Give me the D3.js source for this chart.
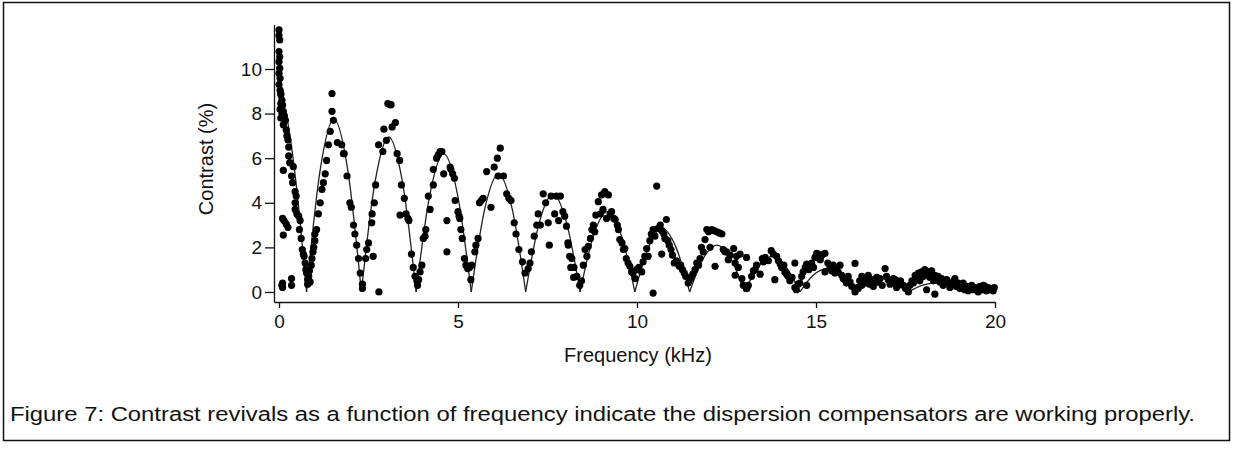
<!DOCTYPE html>
<html>
<head>
<meta charset="utf-8">
<script src="https://cdn.jsdelivr.net/npm/d3@7"></script>
<style>
body { margin: 0; background: #fff; }
svg { display: block; font-family: "Liberation Sans", Arial, sans-serif; }
</style>
</head>
<body>
<div id="chart"></div>
<script>
const xTicks = [0, 5, 10, 15, 20];
const yTicks = [0, 2, 4, 6, 8, 10];
const xTitle = "Frequency (kHz)";
const yTitle = "Contrast (%)";
const caption = "Figure 7: Contrast revivals as a function of frequency indicate the dispersion compensators are working properly.";

// fitted curve (zeros, quarter points, peaks)
const fitFreq = [0, 0.2, 0.4, 0.58, 0.77,
  1.15, 1.535, 1.92, 2.30,
  2.68, 3.065, 3.45, 3.83,
  4.215, 4.6, 4.985, 5.37,
  5.75, 6.13, 6.51, 6.89,
  7.27, 7.65, 8.03, 8.41,
  8.79, 9.175, 9.56, 9.94,
  10.32, 10.7, 11.09, 11.47,
  11.85, 12.23, 12.62, 13.0,
  13.39, 13.78, 14.16, 14.55,
  14.92, 15.3, 15.67, 16.05,
  16.43, 16.8, 17.2, 17.58,
  17.96, 18.35, 18.73, 19.11,
  19.5, 20.0];
const fitContrast = [8.6, 7.95, 5.9, 3.3, 0,
  5.48, 7.75, 5.48, 0,
  4.91, 6.95, 4.91, 0,
  4.38, 6.2, 4.38, 0,
  3.75, 5.3, 3.75, 0,
  3.11, 4.4, 3.11, 0,
  2.55, 3.6, 2.55, 0,
  2.0, 2.85, 2.0, 0,
  1.5, 2.1, 1.5, 0,
  1.13, 1.6, 1.13, 0,
  0.75, 1.05, 0.75, 0,
  0.42, 0.6, 0.42, 0,
  0.3, 0.4, 0.3, 0,
  0.18, 0.3];

// measured contrast [kHz, %]
const measured = [
  [0.0,11.75],[0.0,11.5],[0.02,11.3],[0.0,10.78],[0.02,10.55],[0.0,10.33],[0.02,10.03],[0.0,9.8],[0.03,9.58],[0.0,9.3],
  [0.03,9.05],[0.05,8.9],[0.05,8.83],[0.08,8.6],[0.05,8.45],[0.1,8.38],[0.03,8.2],[0.08,8.0],[0.12,8.1],[0.15,7.9],
  [0.05,7.8],[0.18,7.7],[0.12,7.5],[0.2,7.27],[0.22,7.0],[0.25,6.82],[0.27,6.5],[0.27,6.1],[0.3,5.8],[0.4,5.62],
  [0.35,5.2],[0.38,4.9],[0.45,4.5],[0.48,4.3],[0.45,4.0],[0.45,3.7],[0.5,3.5],[0.55,3.4],[0.59,3.2],[0.57,2.8],
  [0.62,2.4],[0.65,1.9],[0.68,1.7],[0.7,1.6],[0.73,1.3],[0.75,1.0],[0.77,0.85],[0.8,0.55],[0.8,0.35],[0.83,0.7],
  [0.85,0.95],[0.87,0.45],
  [0.12,5.45],[0.1,3.3],[0.14,3.2],[0.2,3.05],[0.25,2.9],[0.12,2.55],[0.1,0.4],[0.1,0.2],[0.35,0.3],[0.35,0.6],[0.08,0.3],
  [0.9,1.2],[0.92,1.5],[0.95,1.8],[0.97,2.0],[1.0,2.3],[1.0,2.6],[1.05,2.8],[1.1,3.5],[1.15,4.0],[1.2,4.6],
  [1.24,4.9],[1.29,5.3],[1.33,5.9],[1.38,6.6],[1.43,7.2],[1.48,8.1],[1.48,8.9],[1.52,7.7],
  [1.63,6.7],[1.75,6.6],[1.8,6.2],[1.82,6.2],[1.9,5.2],[1.98,4.0],[2.02,3.8],[2.08,3.0],[2.12,2.6],[2.17,2.1],
  [2.22,1.5],[2.27,0.85],[2.33,0.35],[2.33,0.15],
  [2.42,1.5],[2.45,1.9],[2.5,2.2],[2.59,3.1],[2.6,3.5],[2.66,4.0],[2.7,4.8],[2.78,6.6],[2.9,6.3],[2.93,7.3],
  [3.0,6.8],[3.04,8.45],[3.1,8.4],[3.13,8.4],[2.63,1.6],[2.79,0.0],
  [3.16,7.4],[3.25,7.6],[3.3,6.2],[3.37,5.9],[3.42,4.8],[3.38,3.45],[3.5,4.2],[3.55,3.5],[3.6,3.3],[3.63,3.2],
  [3.7,1.7],[3.75,1.1],[3.8,0.7],[3.85,0.5],[3.87,0.3],[3.9,0.55],
  [3.94,0.9],[3.99,1.2],[4.03,2.4],[4.08,2.5],[4.1,2.8],[4.17,4.3],[4.22,3.7],[4.31,4.8],[4.31,5.5],[4.4,6.0],
  [4.45,6.15],[4.5,6.3],[4.55,6.3],[4.6,5.3],[4.69,3.2],[4.69,1.8],
  [4.78,5.6],[4.8,5.5],[4.85,5.3],[4.9,5.1],[4.92,4.1],[5.0,3.6],[5.03,3.4],[5.05,3.3],[5.08,2.8],[5.12,2.4],
  [5.18,1.5],[5.22,1.2],[5.27,1.05],[5.32,1.1],[5.36,0.55],[5.38,1.2],
  [5.47,1.8],[5.5,2.1],[5.56,2.4],[5.6,4.0],[5.65,4.1],[5.7,4.2],[5.8,5.4],[5.92,3.8],[6.01,5.6],[6.1,6.0],
  [6.18,6.45],[6.12,5.2],
  [6.27,5.2],[6.36,4.4],[6.42,4.2],[6.48,4.1],[6.57,3.1],[6.62,2.6],[6.7,1.9],[6.8,1.35],[6.87,0.85],[6.96,1.05],
  [7.01,1.3],
  [7.05,1.8],[7.13,2.5],[7.2,3.0],[7.24,3.5],[7.3,3.0],[7.38,4.4],[7.45,4.0],[7.52,3.1],[7.55,2.1],[7.6,4.3],
  [7.7,3.5],[7.75,4.3],[7.81,3.2],[7.86,4.3],
  [7.93,3.6],[7.98,3.4],[8.03,2.95],[8.07,2.2],[8.08,2.1],[8.12,1.6],[8.15,1.1],[8.18,1.5],[8.24,1.1],[8.23,0.65],
  [8.32,0.7],[8.4,0.3],[8.45,0.5],
  [8.5,1.2],[8.55,1.9],[8.6,1.6],[8.64,2.05],[8.7,2.4],[8.74,2.8],[8.78,3.0],[8.82,2.7],[8.85,3.45],[8.92,4.05],
  [8.98,3.5],[9.01,4.35],[9.05,3.7],[9.1,4.5],[9.15,3.3],[9.2,4.35],
  [9.25,3.5],[9.29,3.6],[9.35,3.3],[9.39,3.25],[9.45,3.0],[9.48,2.8],[9.52,2.35],[9.58,2.2],[9.62,1.9],[9.66,1.95],
  [9.7,1.5],[9.75,1.3],[9.8,1.15],[9.85,0.9],[9.89,0.85],[9.95,0.6],[9.99,1.0],
  [10.05,1.1],[10.13,0.9],[10.17,1.35],[10.22,1.6],[10.27,1.95],[10.31,1.6],[10.36,2.3],[10.4,2.6],[10.45,2.8],[10.5,2.5],
  [10.55,4.75],[10.45,-0.05],[10.59,2.85],[10.65,3.0],[10.69,2.75],[10.69,1.7],
  [10.75,2.6],[10.78,2.4],[10.82,3.25],[10.86,2.3],[10.9,2.1],[10.95,1.9],[10.99,1.65],[11.04,1.3],[11.1,1.4],[11.18,1.15],
  [11.22,1.2],[11.27,1.0],[11.32,0.85],[11.36,0.7],[11.43,0.4],[11.47,0.55],
  [11.5,0.65],[11.56,0.8],[11.62,1.0],[11.67,1.3],[11.72,1.2],[11.76,1.5],[11.8,2.0],[11.85,1.8],[11.9,2.35],[11.95,2.8],
  [12.0,2.7],[12.04,2.0],[12.09,2.8],[12.15,2.75],[12.18,1.15],[12.23,2.7],[12.3,2.65],[12.37,2.6],
  [12.41,1.9],[12.46,1.8],[12.5,1.8],[12.55,1.45],[12.6,1.65],[12.7,1.95],[12.74,1.3],[12.74,0.75],[12.78,1.6],[12.83,1.1],
  [12.88,1.7],[12.93,0.6],[12.97,0.3],[13.07,0.15],
  [13.06,1.55],[13.11,0.3],[13.2,0.7],[13.25,0.95],[13.3,1.0],[13.34,1.2],[13.44,0.8],[13.5,1.5],[13.53,1.35],[13.58,1.55],
  [13.67,1.4],[13.75,1.85],[13.81,1.7],[13.85,0.55],[13.9,1.6],
  [13.95,1.4],[14.0,1.25],[14.04,1.1],[14.1,1.2],[14.13,0.9],[14.18,0.8],[14.22,0.7],[14.27,0.5],[14.33,0.65],[14.41,0.2],
  [14.41,1.3],[14.45,0.1],[14.5,0.35],
  [14.55,0.4],[14.6,0.7],[14.64,0.9],[14.7,1.1],[14.74,1.25],[14.74,0.3],[14.8,1.0],[14.88,1.3],[14.93,1.1],[14.97,1.55],
  [15.02,1.73],[15.06,1.7],[15.12,1.45],[15.16,1.65],[15.25,1.73],
  [15.25,0.9],[15.33,1.3],[15.39,1.1],[15.44,0.95],[15.48,1.2],[15.53,0.85],[15.57,1.0],[15.62,0.9],[15.67,1.2],[15.72,0.75],
  [15.76,0.6],[15.81,0.55],[15.85,0.4],[15.9,0.7],[15.95,0.45],[16.0,0.25],[16.09,0.0],
  [16.09,1.28],[16.15,0.2],[16.18,0.15],[16.22,0.5],[16.28,0.3],[16.28,0.7],[16.33,0.55],[16.37,0.4],[16.42,0.6],[16.46,0.75],
  [16.5,0.35],[16.56,0.55],[16.6,0.25],[16.65,0.4],[16.7,0.65],[16.75,0.45],[16.79,0.6],[16.85,0.3],[16.93,1.05],[16.97,0.7],
  [17.02,0.55],[17.07,0.35],[17.12,0.4],[17.16,0.6],[17.21,0.55],[17.25,0.2],[17.3,0.3],[17.36,0.5],[17.44,0.3],[17.5,0.15],
  [17.58,0.0],[17.62,0.3],[17.68,0.5],[17.72,0.4],[17.77,0.75],[17.82,0.6],[17.86,0.85],[17.9,0.5],[17.95,0.9],[18.0,0.7],
  [18.04,1.0],[18.09,0.1],[18.09,0.8],[18.13,0.9],[18.18,0.65],[18.23,0.95],[18.28,0.5],[18.32,0.75],[18.32,-0.1],[18.37,0.6],
  [18.41,0.7],[18.46,0.45],[18.51,0.6],[18.55,0.3],[18.6,0.45],[18.65,0.55],[18.69,0.4],[18.74,0.2],[18.8,0.35],[18.85,0.5],
  [18.88,0.6],[18.92,0.25],[18.97,0.4],[19.02,0.15],[19.06,0.3],[19.11,0.4],[19.16,0.1],[19.21,0.25],[19.25,0.05],[19.3,0.15],
  [19.35,0.3],[19.39,0.1],[19.44,0.2],[19.49,0.15],[19.53,0.0],[19.58,0.25],[19.63,0.1],[19.68,0.3],[19.72,0.25],[19.76,0.05],
  [19.81,0.2],[19.86,0.1],[19.9,0.15],[19.95,0.05],[19.98,0.2]
];

const width = 1233;
const height = 450;

const svg = d3.select("#chart").append("svg")
  .attr("width", width)
  .attr("height", height);

// figure frame
svg.append("rect")
  .attr("x", 3.5).attr("y", 2.5)
  .attr("width", 1226).attr("height", 438)
  .attr("fill", "none")
  .attr("stroke", "#111")
  .attr("stroke-width", 1.5);

const x = d3.scaleLinear().domain([-0.14, 20]).range([274, 995]);
const y = d3.scaleLinear().domain([-0.45, 12]).range([302, 24.4]);

const xAxis = svg.append("g")
  .attr("transform", `translate(0, ${y(-0.45)})`)
  .call(d3.axisBottom(x).tickValues(xTicks).tickSize(6).tickSizeOuter(0).tickPadding(7));

const yAxis = svg.append("g")
  .attr("transform", `translate(${x(-0.14)}, 0)`)
  .call(d3.axisLeft(y).tickValues(yTicks).tickSize(9).tickSizeOuter(0).tickPadding(3));

[xAxis, yAxis].forEach(g => {
  g.selectAll("path, line").attr("stroke", "#111").attr("stroke-width", 1.3);
  g.selectAll("text").attr("fill", "#111").style("font-size", "19px").style("font-family", null);
});

// fit curve, drawn one arch at a time so the zeros stay sharp
const fit = fitFreq.map((f, i) => [f, fitContrast[i]]);
const arches = [];
let cur = [];
fit.forEach(p => {
  cur.push(p);
  if (p[1] === 0 && cur.length > 1) { arches.push(cur); cur = [p]; }
});
if (cur.length > 1) arches.push(cur);

const line = d3.line()
  .x(d => x(d[0]))
  .y(d => y(d[1]))
  .curve(d3.curveMonotoneX);

svg.append("g").selectAll("path")
  .data(arches)
  .join("path")
  .attr("d", line)
  .attr("fill", "none")
  .attr("stroke", "#222")
  .attr("stroke-width", 1.3);

svg.append("g").selectAll("circle")
  .data(measured)
  .join("circle")
  .attr("cx", d => x(d[0]))
  .attr("cy", d => y(d[1]))
  .attr("r", 3.6)
  .attr("fill", "#000");

svg.append("text")
  .attr("x", 638).attr("y", 362)
  .attr("text-anchor", "middle")
  .style("font-size", "20px")
  .attr("fill", "#111")
  .text(xTitle);

svg.append("text")
  .attr("transform", "translate(213, 159) rotate(-90)")
  .attr("text-anchor", "middle")
  .style("font-size", "20px")
  .attr("fill", "#111")
  .text(yTitle);

svg.append("text")
  .attr("x", 10).attr("y", 421)
  .attr("textLength", 1185)
  .attr("lengthAdjust", "spacingAndGlyphs")
  .style("font-size", "20px")
  .attr("fill", "#111")
  .text(caption);
</script>
</body>
</html>
